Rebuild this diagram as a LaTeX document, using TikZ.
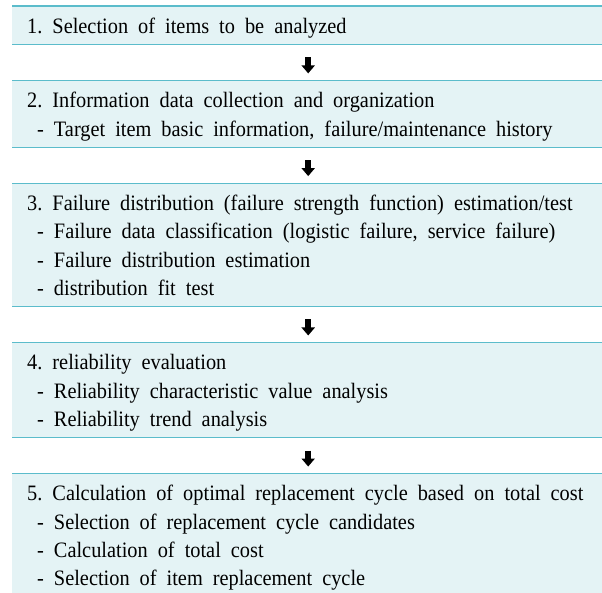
\documentclass[tikz,border=0pt]{standalone}
\usepackage{fontspec}
\setmainfont[FakeStretch=0.925]{Liberation Serif}
\usetikzlibrary{positioning,arrows.meta}
\definecolor{boxfill}{HTML}{E4F3F5}
\definecolor{boxrule}{HTML}{5BBCCB}
\newcommand\itemdash{\hspace*{10pt}- }

\begin{document}
\begin{tikzpicture}[x=1pt, y=-1pt,
  stepbox/.style={anchor=north west, fill=boxfill, minimum width=592pt,
    text width=562pt, inner xsep=15pt, inner ysep=4.83pt, align=left,
    font=\fontsize{22pt}{28.33pt}\selectfont,
    execute at begin node={\frenchspacing\spaceskip=10pt\relax\rule{0pt}{22.33pt}},
    execute at end node={\rule[-6pt]{0pt}{6pt}}},
  steprule/.style={draw=boxrule, line width=1.2pt},
  steparrow/.style={line width=5.5pt, -{Triangle[width=13pt,length=8pt]},
    shorten <=13pt, shorten >=7pt}]
  \useasboundingbox (0,0) rectangle (602,592);
  \clip (0,0) rectangle (602,592);

  % Steps
  \node[stepbox] (s1) at (12,6) {1. Selection of items to be analyzed};
  \node[stepbox, below=36pt of s1] (s2) {2. Information data collection and organization\\
    \itemdash Target item basic information, failure/maintenance history};
  \node[stepbox, below=36pt of s2] (s3) {3. Failure distribution (failure strength function) estimation/test\\
    \itemdash Failure data classification (logistic failure, service failure)\\
    \itemdash Failure distribution estimation\\
    \itemdash distribution fit test};
  \node[stepbox, below=36pt of s3] (s4) {4. reliability evaluation\\
    \itemdash Reliability characteristic value analysis\\
    \itemdash Reliability trend analysis};
  \node[stepbox, below=36pt of s4] (s5) {5. Calculation of optimal replacement cycle based on total cost\\
    \itemdash Selection of replacement cycle candidates\\
    \itemdash Calculation of total cost\\
    \itemdash Selection of item replacement cycle};

  % Rules above and below each step
  \foreach \s in {s1,s2,s3,s4,s5} {
    \draw[steprule] (\s.north west) -- (\s.north east);
    \draw[steprule] (\s.south west) -- (\s.south east);
  }

  % Arrows between steps
  \foreach \a/\b in {s1/s2, s2/s3, s3/s4, s4/s5}
    \draw[steparrow] (\a.south) -- (\b.north);
\end{tikzpicture}
\end{document}
